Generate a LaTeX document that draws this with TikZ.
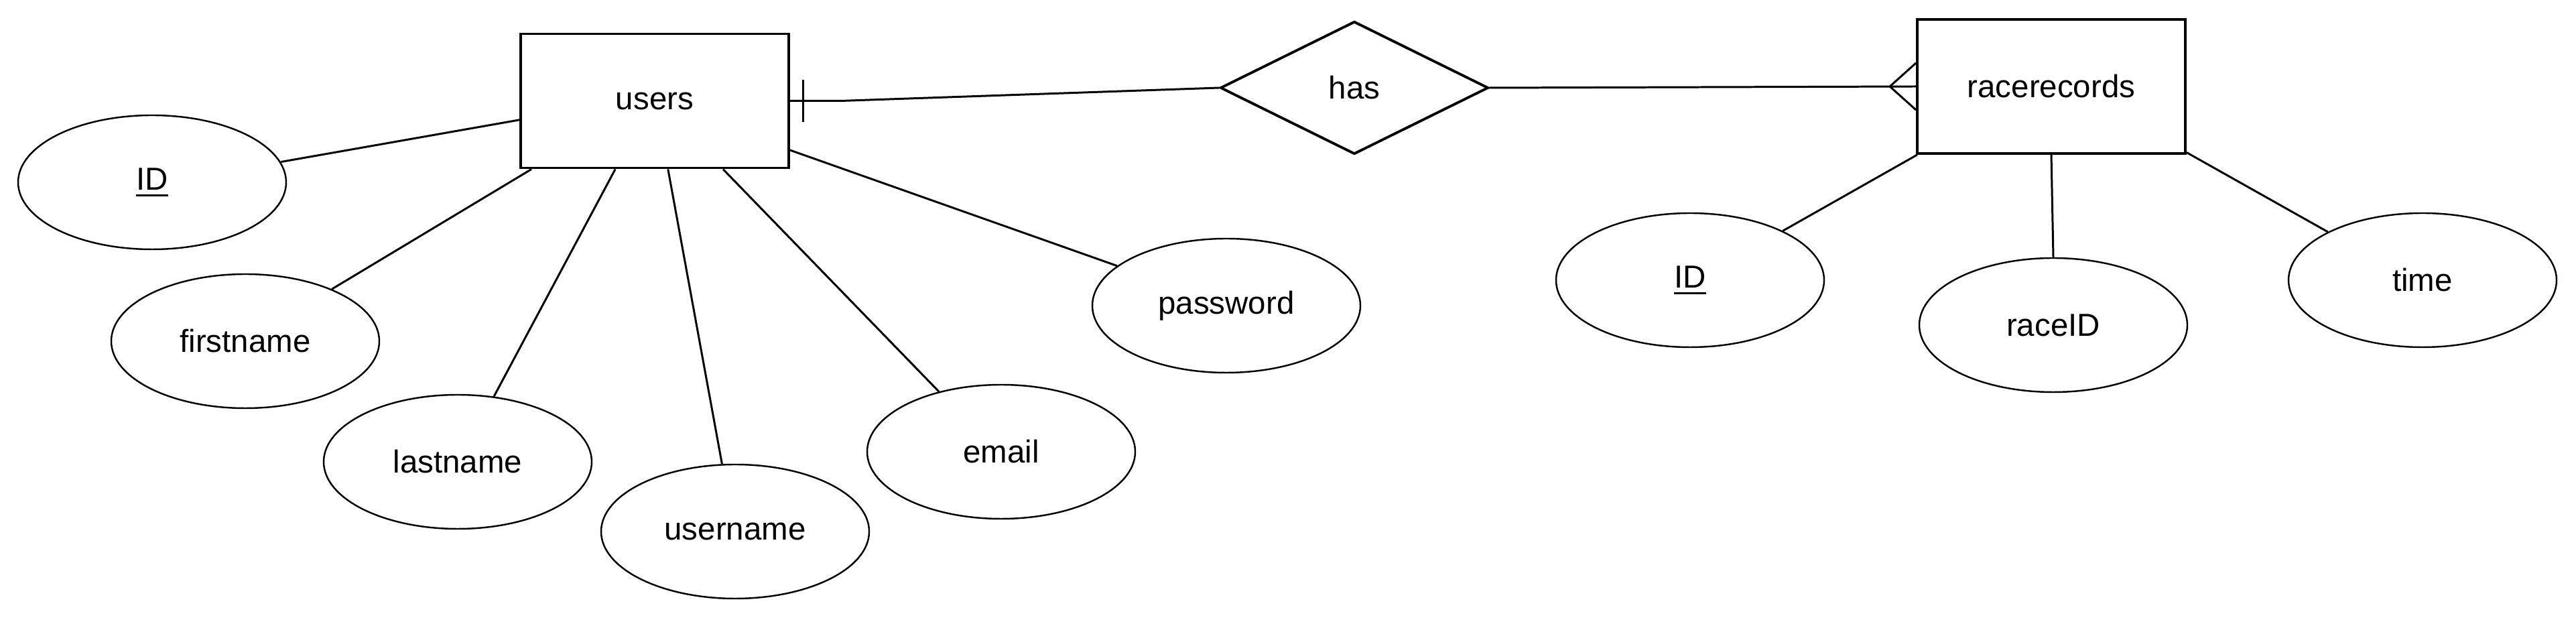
\documentclass[tikz,border=0pt]{standalone}
\usepackage{fontspec}
\setmainfont{Liberation Sans}
\usetikzlibrary{shapes.geometric,calc}
\newcommand{\keyattr}[1]{\setbox0\hbox{#1}\rlap{\rule[-2.9pt]{\wd0}{0.95pt}}\box0}

\begin{document}
\begin{tikzpicture}[
        font=\fontsize{13.5}{16}\selectfont,
        entity/.style={draw, line width=1.1pt, minimum width=4cm, minimum height=2cm, inner sep=0pt},
        relation/.style={draw, diamond, aspect=2, line width=1.1pt, minimum width=4cm, minimum height=1.98cm, inner sep=0pt},
        attrib/.style={draw, ellipse, line width=0.7pt, minimum width=4cm, minimum height=2cm, inner sep=0pt},
        link/.style={line width=0.85pt}]
\useasboundingbox (0,0) rectangle (38.44,-9.22);

\node[entity] (users) at (9.77,-1.505) {users};
\node[relation] (has) at (20.21,-1.31) {has};
\node[entity] (racerecords) at (30.61,-1.29) {racerecords};

\node[attrib] (idU) at (2.27,-2.72) {\keyattr{ID}};
\node[attrib] (firstname) at (3.66,-5.09) {firstname};
\node[attrib] (lastname) at (6.83,-6.89) {lastname};
\node[attrib] (username) at (10.97,-7.93) {username};
\node[attrib] (email) at (14.94,-6.74) {email};
\node[attrib] (password) at (18.30,-4.56) {password};

\node[attrib] (idR) at (25.22,-4.18) {\keyattr{ID}};
\node[attrib] (raceid) at (30.64,-4.85) {raceID};
\node[attrib] (time) at (36.15,-4.18) {time};

\draw[link] (users.188.8) -- (idU.9.4);
\draw[link] (users.209.5) -- (firstname.31.2);
\draw[link] (users.-120.1) -- (lastname.61);
\draw[link] (users.-79.8) -- (username.101.4);
\draw[link] (users.-45) -- (email.136);
\draw[link] (users.-20.3) -- (password.160.3);

\draw[link] (racerecords.207.5) -- (idR.28);
\draw[link] (racerecords.-90) -- (raceid.90);
\draw[link] (racerecords.-26.7) -- (time.153);

\draw[link] (users.east) -- ++(0.76,0) -- (has.west);
\draw[link] ($(users.east)+(0.2,0.31)$) -- ++(0,-0.63);
\draw[link] (has.east) -- (racerecords.west);
\draw[link] ($(racerecords.west)+(0,0.35)$) -- ($(racerecords.west)+(-0.39,0)$)
        -- ($(racerecords.west)+(0,-0.35)$);
\end{tikzpicture}
\end{document}
